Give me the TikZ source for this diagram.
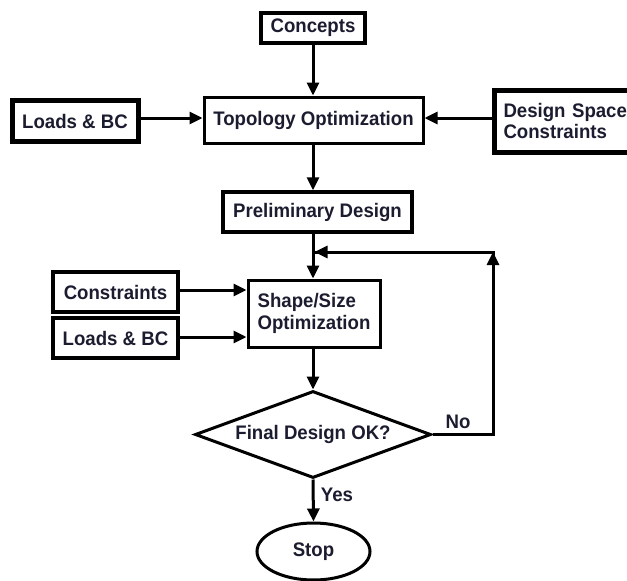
\documentclass[tikz,border=0pt]{standalone}
\usepackage{fontspec}
\setmainfont[FakeStretch=0.95]{Liberation Sans}
\usetikzlibrary{arrows.meta,shapes.geometric}
\definecolor{txt}{HTML}{1C1C30}
\tikzset{
  every node/.style={font=\bfseries\fontsize{19.6}{21.5}\selectfont, text=txt},
  box/.style={draw=black, rectangle, inner sep=0pt},
  conn/.style={draw=black, line width=3pt},
  arr/.style={conn, -{Triangle[length=13pt,width=12pt]}},
  lbl/.style={inner sep=0pt}
}
\begin{document}
\begin{tikzpicture}[x=1pt,y=-1pt]
\useasboundingbox (0,0) rectangle (627,581);
\clip (0,0) rectangle (627,581);
% nodes
\node[box, line width=3.5pt, minimum width=104pt, minimum height=30pt] (concepts) at (313,28) {Concepts};
\node[box, line width=3pt, minimum width=219pt, minimum height=46pt] (topo) at (313.5,120) {Topology Optimization};
\node[box, line width=5pt, minimum width=126pt, minimum height=41pt] (loadsA) at (75,121) {Loads \& BC};
\node[box, line width=5pt, anchor=west, text width=130pt, align=left, inner xsep=9pt, minimum height=62pt] (dsc) at (492,121) {Design Space\\Constraints};
\node[box, line width=3.5pt, minimum width=189pt, minimum height=40pt] (prelim) at (317.5,212) {Preliminary Design};
\node[box, line width=3pt, minimum width=132pt, minimum height=67pt, align=left] (shape) at (314,313.5) {Shape/Size\\Optimization};
\node[box, line width=4pt, minimum width=125pt, minimum height=40pt] (constr) at (115.5,292) {Constraints};
\node[box, line width=4pt, minimum width=125pt, minimum height=40pt] (loadsB) at (115.5,338) {Loads \& BC};
\node[diamond, draw=black, line width=3pt, inner sep=0pt, shape aspect=2.7, minimum width=236pt, minimum height=87pt] (dia) at (313,434.5) {Final Design OK?};
\node[ellipse, draw=black, line width=3pt, inner sep=0pt, minimum width=113pt, minimum height=57pt] (stop) at (313.5,551.5) {Stop};
\node[lbl] (no) at (458,422) {No};
\node[lbl] (yes) at (337,495) {Yes};
% feedback coordinates
\coordinate (fbR) at (493,433);
\coordinate (fbC) at (493,252);
\coordinate (fbJ) at (314.5,252);
% connectors
\draw[arr] (concepts.south) -- (topo.north -| concepts.south);
\draw[arr] (loadsA.east |- 0,118) -- (topo.west |- 0,118);
\draw[arr] (dsc.west |- 0,118) -- (topo.east |- 0,118);
\draw[arr] (topo.south -| concepts.south) -- (prelim.north -| concepts.south);
\draw[arr] (prelim.south -| concepts.south) -- (shape.north -| concepts.south);
\draw[arr] (constr.east |- 0,290) -- (shape.west |- 0,290);
\draw[arr] (loadsB.east |- 0,337) -- (shape.west |- 0,337);
\draw[arr] (shape.south -| concepts.south) -- (dia.north);
\draw[arr] (dia.south) -- (stop.north);
\draw[conn, line join=miter] (dia.east) -- (dia.east -| fbR) -- (fbC) -- (fbJ);
\draw[arr] (fbR) -- (fbC);
\draw[arr] (fbC) -- (fbJ);
\end{tikzpicture}
\end{document}
